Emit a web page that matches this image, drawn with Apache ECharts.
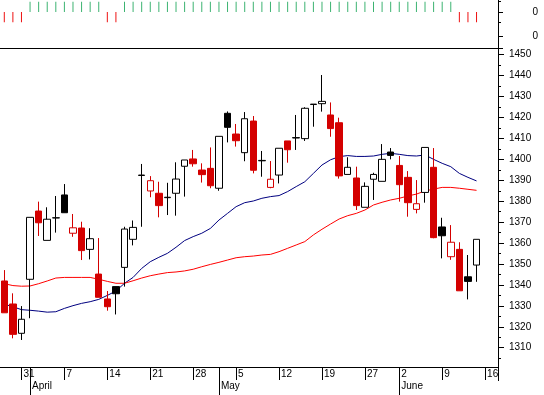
<!DOCTYPE html>
<html>
<head>
<meta charset="utf-8">
<script src="https://cdn.jsdelivr.net/npm/echarts@6/dist/echarts.min.js"></script>
<style>
html,body{margin:0;padding:0;background:#fff;}
#chart{width:544px;height:395px;}
</style>
</head>
<body>
<div id="chart"></div>
<script>
// ---- data ----
const categories = ['Mar 27','Mar 28','Mar 31',
 'Apr 1','Apr 2','Apr 3','Apr 4','Apr 7','Apr 8','Apr 9','Apr 10','Apr 11','Apr 14','Apr 15','Apr 16','Apr 17','Apr 18','Apr 21','Apr 22','Apr 23','Apr 24','Apr 25','Apr 28','Apr 29','Apr 30',
 'May 1','May 2','May 5','May 6','May 7','May 8','May 9','May 12','May 13','May 14','May 15','May 16','May 19','May 20','May 21','May 22','May 23','May 27','May 28','May 29','May 30',
 'Jun 2','Jun 3','Jun 4','Jun 5','Jun 6','Jun 9','Jun 10','Jun 11','Jun 12','Jun 13',
 'Jun 16','Jun 17'];

const open  = [1341.9,1330.9,1316.9,1342.7,1375.3,1361.3,1372.0,1383.0,1364.7,1367.2,1357.0,1345.2,1333.3,1339.2,1348.4,1361.8,1392.3,1384.9,1383.8,1381.7,1383.8,1396.7,1400.2,1394.9,1395.7,1386.2,1422.0,1412.1,1403.2,1418.3,1399.3,1386.6,1392.5,1408.8,1410.2,1409.9,1426.2,1426.6,1421.2,1417.5,1392.8,1391.1,1377.1,1390.5,1389.5,1403.5,1397.1,1391.4,1376.1,1384.2,1396.2,1367.7,1353.5,1357.0,1343.9,1349.5];
const close = [1326.7,1316.4,1323.6,1372.3,1369.7,1371.4,1372.1,1374.5,1367.3,1356.4,1362.1,1334.1,1329.6,1335.8,1366.7,1367.5,1392.5,1389.8,1377.9,1381.9,1390.6,1399.7,1397.9,1392.7,1387.4,1411.0,1415.3,1408.9,1419.4,1394.8,1399.5,1390.5,1405.3,1404.6,1410.4,1424.4,1426.4,1427.7,1414.7,1392.1,1396.2,1377.9,1387.1,1392.8,1400.0,1401.9,1387.9,1379.3,1378.8,1405.7,1362.6,1363.5,1360.4,1337.2,1341.7,1361.8];
const low   = [1326.7,1314.5,1313.7,1324.1,1363.4,1361.3,1365.0,1374.5,1363.0,1351.9,1352.2,1334.1,1327.7,1325.9,1339.2,1358.9,1367.8,1381.9,1372.3,1373.4,1373.1,1382.2,1396.5,1388.9,1386.2,1385.0,1408.1,1406.1,1399.1,1393.3,1391.7,1386.2,1388.5,1398.4,1404.5,1408.8,1415.6,1422.8,1410.8,1390.8,1392.8,1375.8,1377.1,1380.6,1389.5,1400.0,1379.8,1372.6,1374.2,1379.3,1362.3,1352.7,1352.0,1337.2,1333.1,1341.5];
const high  = [1347.1,1336.0,1329.9,1372.3,1379.8,1377.1,1382.5,1388.2,1373.9,1370.2,1367.1,1362.4,1337.1,1339.2,1367.8,1370.8,1397.8,1392.0,1389.3,1388.8,1398.6,1399.7,1404.5,1398.1,1405.7,1411.0,1422.9,1416.9,1422.6,1420.7,1404.0,1399.2,1405.3,1408.8,1421.2,1424.9,1426.4,1440.3,1427.2,1419.9,1401.0,1396.5,1389.0,1393.6,1407.3,1405.4,1401.6,1394.4,1390.1,1405.7,1405.4,1372.1,1368.6,1360.4,1354.3,1361.8];
const prevCloseBefore = 1345.0;

const maShort = [1330.8,1329.6,1328.2,1327.9,1327.5,1327.0,1327.2,1328.8,1330.1,1331.2,1332.0,1333.1,1335.0,1337.1,1340.8,1343.6,1347.9,1351.1,1353.2,1355.1,1358.0,1361.2,1363.1,1364.7,1367.0,1371.0,1374.2,1377.4,1379.3,1380.1,1381.4,1382.2,1382.7,1384.6,1387.0,1389.3,1393.3,1397.3,1399.8,1401.3,1401.8,1401.4,1401.4,1401.6,1402.4,1402.9,1402.4,1401.8,1401.6,1402.1,1400.0,1398.1,1396.5,1393.3,1391.4,1389.7];
const maLong  = [1340.6,1339.7,1339.4,1339.5,1340.6,1341.9,1343.3,1343.6,1343.6,1343.6,1343.6,1342.7,1341.7,1340.8,1340.8,1342.0,1343.3,1344.4,1345.2,1345.9,1346.2,1346.7,1347.5,1348.7,1349.8,1350.8,1351.9,1353.0,1353.5,1353.8,1354.3,1354.6,1355.9,1357.5,1359.1,1360.7,1363.9,1366.6,1369.1,1371.5,1373.1,1374.2,1375.8,1378.2,1379.5,1380.6,1381.4,1382.5,1383.4,1384.9,1385.8,1386.6,1386.6,1386.2,1385.7,1385.2];

const signal = [-1,-1,-1, 1,1,1,1,1,1,1,1,1, -1,-1,
 1,1,1,1,1,1,1,1,1,1,1,1,1,1,1,1,1,1,1,1,1,1,1,1,1,1,1,1,1,1,1,1,1,1,1,1,1,1,1,
 -1,-1,-1];

const weekTicks = ['Mar 31','Apr 7','Apr 14','Apr 21','Apr 28','May 5','May 12','May 19','May 27','Jun 2','Jun 9','Jun 16'];
const monthStarts = ['Apr 1','May 1','Jun 2'];
const monthNames = ['April','May','June'];
const priceTicks = [1310,1320,1330,1340,1350,1360,1370,1380,1390,1400,1410,1420,1430,1440,1450];
const priceMinorTicks = [1305,1315,1325,1335,1345,1355,1365,1375,1385,1395,1405,1415,1425,1435,1445];

// ---- styles ----
const RED = '#d40000', BLACK = '#000000';
const FONT = {fontFamily:'Liberation Sans, Arial, sans-serif', fontSize:10, color:'#000'};

const candleData = open.map((o, i) => {
  const c = close[i];
  const pc = i === 0 ? prevCloseBefore : close[i - 1];
  const col = c >= pc ? BLACK : RED;
  const fill = c > o ? '#ffffff' : col;
  return {
    value: [o, c, low[i], high[i]],
    itemStyle: {color:fill, color0:fill, borderColor:col, borderColor0:col, borderColorDoji:col, borderWidth:1}
  };
});
const signalData = signal.map(v => ({value:v, itemStyle:{color: v > 0 ? '#3cb371' : '#ee1111'}}));

const weekIdx = new Set(weekTicks.map(d => categories.indexOf(d)));
const monthIdx = new Set(monthStarts.map(d => categories.indexOf(d)));
const monthMap = {};
monthStarts.forEach((d, k) => { monthMap[d] = monthNames[k]; });

const gridBase = {left:0, right:46, containLabel:false, outerBoundsMode:'none'};

const chart = echarts.init(document.getElementById('chart'), null, {renderer:'canvas'});
chart.setOption({
  animation:false,
  backgroundColor:'#fff',
  textStyle:{fontFamily:FONT.fontFamily},
  grid:[
    Object.assign({top:0, height:24}, gridBase),
    Object.assign({top:24, height:24}, gridBase),
    Object.assign({top:48, height:319}, gridBase)
  ],
  xAxis:[
    {type:'category', gridIndex:0, data:categories, show:false, boundaryGap:true},
    {type:'category', gridIndex:1, data:categories, boundaryGap:true, position:'bottom',
     axisLine:{show:true, onZero:false, lineStyle:{color:'#000', width:1}}, axisTick:{show:false}, axisLabel:{show:false}},
    {type:'category', gridIndex:2, data:categories, boundaryGap:true, position:'bottom',
     axisLine:{show:true, onZero:false, lineStyle:{color:'#000', width:1}},
     axisTick:{show:true, alignWithLabel:true, length:13, interval:(i) => weekIdx.has(i), lineStyle:{color:'#000'}},
     axisLabel:Object.assign({show:true, interval:(i) => weekIdx.has(i), formatter:(v) => v.split(' ')[1],
       align:'left', margin:2, padding:[0,0,0,2]}, FONT)},
    {type:'category', gridIndex:2, data:categories, boundaryGap:true, position:'bottom', offset:0,
     axisLine:{show:false, onZero:false},
     axisTick:{show:true, alignWithLabel:true, length:28, interval:(i) => monthIdx.has(i), lineStyle:{color:'#000'}},
     axisLabel:Object.assign({show:true, interval:(i) => monthIdx.has(i), formatter:(v) => monthMap[v] || '',
       align:'left', margin:14, padding:[0,0,0,2]}, FONT)}
  ],
  yAxis:[
    {type:'value', gridIndex:0, position:'right', min:-1.16, max:1.16,
     axisLine:{show:true, lineStyle:{color:'#000'}}, splitLine:{show:false},
     axisTick:{show:true, length:5, customValues:[0], lineStyle:{color:'#000'}},
     axisLabel:Object.assign({show:true, customValues:[0], formatter:(v) => String(Math.round(v)), align:'right', margin:40}, FONT)},
    {type:'value', gridIndex:0, position:'right', min:-1.16, max:1.16,
     axisLine:{show:false}, splitLine:{show:false},
     axisTick:{show:true, length:3, customValues:[1,-1], lineStyle:{color:'#000'}},
     axisLabel:{show:false}},
    {type:'value', gridIndex:1, position:'right', min:-1, max:1,
     axisLine:{show:true, lineStyle:{color:'#000'}}, splitLine:{show:false},
     axisTick:{show:true, length:5, customValues:[0,-1], lineStyle:{color:'#000'}},
     axisLabel:Object.assign({show:true, customValues:[0], formatter:(v) => String(Math.round(v)), align:'right', margin:40}, FONT)},
    {type:'value', gridIndex:2, position:'right', min:1300.8, max:1453.2, scale:true,
     axisLine:{show:true, lineStyle:{color:'#000'}}, splitLine:{show:false},
     axisTick:{show:true, length:6, customValues:priceTicks, lineStyle:{color:'#000'}},
     axisLabel:Object.assign({show:true, customValues:priceTicks, formatter:(v) => String(v), margin:11}, FONT)},
    {type:'value', gridIndex:2, position:'right', min:1300.8, max:1453.2, scale:true,
     axisLine:{show:false}, splitLine:{show:false},
     axisTick:{show:true, length:3, customValues:priceMinorTicks, lineStyle:{color:'#000'}},
     axisLabel:{show:false}}
  ],
  graphic:[
    {type:'line', shape:{x1:498.5, y1:367, x2:498.5, y2:381}, style:{stroke:'#000', lineWidth:1}}
  ],
  series:[
    {type:'bar', xAxisIndex:0, yAxisIndex:0, data:signalData, barWidth:1, silent:true},
    {type:'line', xAxisIndex:2, yAxisIndex:3, data:maShort, showSymbol:false, symbol:'none',
     lineStyle:{color:'#000080', width:1}, z:2, silent:true},
    {type:'line', xAxisIndex:2, yAxisIndex:3, data:maLong, showSymbol:false, symbol:'none',
     lineStyle:{color:'#ff0000', width:1}, z:2, silent:true},
    {type:'candlestick', xAxisIndex:2, yAxisIndex:3, data:candleData, barWidth:7, z:3, silent:true}
  ]
});
</script>
</body>
</html>
